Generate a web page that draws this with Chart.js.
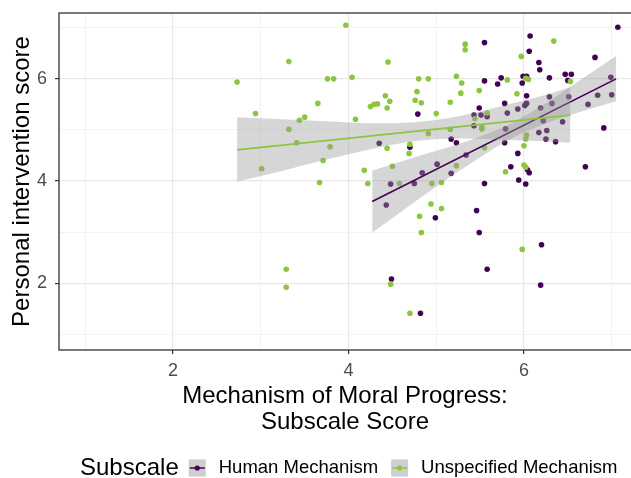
<!DOCTYPE html>
<html>
<head>
<meta charset="utf-8">
<script src="https://cdn.jsdelivr.net/npm/chart.js@4.4.0/dist/chart.umd.min.js"></script>
<style>
  html, body { margin: 0; padding: 0; background: #fff; overflow: hidden; }
  #wrap { width: 635px; height: 478px; position: relative; }
</style>
</head>
<body>
<div id="wrap"><canvas id="myChart"></canvas></div>
<script>
// Datos
const humanX = [4.79,4.35,4.70,5.17,5.23,5.01,4.84,5.17,4.48,4.75, 4.43,4.99,4.49,4.82,5.49,6.20,5.58,6.19,5.93,5.85,
  6.04,6.06,5.94,6.02,5.55,5.46,5.78,6.17,6.26,6.25, 6.36,5.34,5.43,6.22,5.55,6.07,6.06,6.17,6.18,6.29,
  5.55,5.74,5.70,5.99,6.03,5.98,6.03,6.29,5.49,5.43, 5.51,5.58,5.78,5.81,5.93,6.01,6.03,6.19,6.32,6.81,
  7.07,6.47,6.54,6.50,6.51,6.99,7.00,6.84,6.73,6.91, 6.70,6.44,5.79];
const humanY = [5.31,4.74,4.66,4.82,4.75,4.33,4.16,4.15,3.94,3.95, 3.53,3.28,2.08,1.41,2.99,2.75,2.27,1.96,4.54,4.28,
  4.22,4.16,4.02,3.94,3.95,3.42,4.75,4.95,4.99,4.82, 4.77,4.51,5.08,5.18,6.71,6.84,6.54,6.32,6.18,6.02,
  5.96,6.02,5.90,6.05,6.05,5.92,5.67,5.65,5.43,5.29, 5.29,5.26,5.52,5.33,5.41,5.48,5.52,5.43,5.52,6.42,
  7.01,6.09,6.09,5.97,5.65,6.03,5.69,5.68,5.50,5.04, 4.28,5.16,5.02];

const unspecX = [2.73,3.32,2.94,3.32,3.44,3.50,3.41,3.01,3.65,3.67, 3.29,3.29,3.97,3.76,3.83,3.79,3.71,4.04,4.45,4.80,
  4.91,5.23,5.29,4.42,4.78,4.25,4.29,4.33,4.47,4.44, 4.76,4.83,5.16,5.28,5.00,4.08,5.33,5.33,5.49,5.81,
  5.97,6.34,5.92,6.02,6.05,6.53,5.58,5.44,5.52,4.91, 5.16,4.44,4.70,4.69,4.18,4.22,4.50,4.58,4.95,5.06,
  5.23,5.55,5.79,6.00,6.02,6.03,6.00,4.94,5.06,4.81, 4.83,4.48,4.70,5.98,5.52,6.02];
const unspecY = [5.94,6.34,5.32,5.01,5.19,5.25,4.75,4.24,5.52,3.97, 2.27,1.92,7.05,6.00,6.00,4.67,4.40,6.03,6.33,6.00,
  6.00,6.05,5.92,5.67,5.75,5.46,5.50,5.51,5.56,5.43, 5.58,5.53,5.54,5.72,5.32,5.21,6.68,6.57,5.77,5.98,
  6.44,6.74,5.71,6.01,5.99,5.95,5.33,5.22,5.02,4.93, 5.01,4.64,4.72,4.54,4.21,3.95,4.29,3.95,3.95,3.97,
  4.30,4.65,4.18,4.69,4.82,4.90,4.31,3.55,3.46,3.31, 2.99,1.98,1.41,2.66,5.05,4.27];

// recta de regresion y banda de confianza
const humanFitX = [4.27, 7.05];
const humanFitY = [3.60, 6.00];
const humanBandX = [4.27, 4.6, 5.0, 5.4, 5.8, 6.2, 6.6, 7.05];
const humanBandHi = [4.20, 4.38, 4.59, 4.81, 5.08, 5.47, 5.93, 6.45];
const humanBandLo = [2.99, 3.40, 3.89, 4.35, 4.78, 5.09, 5.33, 5.56];

const unspecFitX = [2.73, 6.53];
const unspecFitY = [4.61, 5.29];
const unspecBandX = [2.73, 3.25, 3.75, 4.25, 4.75, 5.25, 5.75, 6.25, 6.53];
const unspecBandHi = [5.25, 5.21, 5.17, 5.13, 5.15, 5.27, 5.47, 5.69, 5.84];
const unspecBandLo = [3.99, 4.20, 4.42, 4.62, 4.78, 4.83, 4.81, 4.78, 4.75];

const xTicks = [2, 4, 6];
const yTicks = [2, 4, 6];

const series = ["Human Mechanism", "Unspecified Mechanism"];
const legendTitle = "Subscale";
const xTitle = ["Mechanism of Moral Progress:", "Subscale Score"];
const yTitle = "Personal intervention score";

const colorHuman = "#440154";
const colorUnspec = "#8CC63E";
const bandColor = "rgba(153,153,153,0.4)";
const fuente = '"Liberation Sans", Arial, sans-serif';

function pares(xs, ys) {
  return xs.map((x, i) => ({ x: x, y: ys[i] }));
}

// borde del panel
const bordePanel = {
  id: "bordePanel",
  afterDatasetsDraw(chart) {
    const { ctx, chartArea: a } = chart;
    ctx.save();
    ctx.strokeStyle = "#333333";
    ctx.lineWidth = 1.3;
    ctx.strokeRect(a.left, a.top, a.right - a.left + 2, a.bottom - a.top);
    ctx.restore();
  }
};

// leyenda al estilo ggplot
const leyenda = {
  id: "leyenda",
  afterDraw(chart) {
    const ctx = chart.ctx;
    const y = 468;
    ctx.save();
    ctx.textBaseline = "middle";
    ctx.textAlign = "left";
    ctx.fillStyle = "#000";
    ctx.font = "24px " + fuente;
    ctx.fillText(legendTitle, 80, y);
    let x = 80 + ctx.measureText(legendTitle).width + 10;
    const colores = [colorHuman, colorUnspec];
    ctx.font = "18.5px " + fuente;
    series.forEach((nombre, i) => {
      ctx.fillStyle = "#F2F2F2";
      ctx.fillRect(x, y - 8.5, 17, 17);
      ctx.fillStyle = bandColor;
      ctx.fillRect(x, y - 8.5, 17, 17);
      ctx.strokeStyle = colores[i];
      ctx.lineWidth = 1.5;
      ctx.beginPath();
      ctx.moveTo(x + 1, y);
      ctx.lineTo(x + 16, y);
      ctx.stroke();
      ctx.fillStyle = colores[i];
      ctx.beginPath();
      ctx.arc(x + 8.5, y, 2.6, 0, Math.PI * 2);
      ctx.fill();
      ctx.fillStyle = "#000";
      ctx.fillText(nombre, x + 30, y);
      x = x + 30 + ctx.measureText(nombre).width + 13;
    });
    ctx.restore();
  }
};

function esMayor(ctx, lista) {
  return ctx.tick && lista.includes(ctx.tick.value);
}

const config = {
  type: "scatter",
  data: {
    datasets: [
      // puntos (abajo)
      { label: series[1], data: pares(unspecX, unspecY), backgroundColor: colorUnspec, pointRadius: 2.8, pointBorderWidth: 0, order: 10 },
      { label: series[0], data: pares(humanX, humanY), backgroundColor: colorHuman, pointRadius: 2.8, pointBorderWidth: 0, order: 10 },
      // banda Human
      { type: "line", data: pares(humanBandX, humanBandHi), borderColor: "rgba(0,0,0,0)", pointRadius: 0, fill: "+1", backgroundColor: bandColor, cubicInterpolationMode: "monotone", order: 8 },
      { type: "line", data: pares(humanBandX, humanBandLo), borderColor: "rgba(0,0,0,0)", pointRadius: 0, fill: false, cubicInterpolationMode: "monotone", order: 8 },
      { type: "line", data: pares(humanFitX, humanFitY), borderColor: colorHuman, borderWidth: 1.6, pointRadius: 0, fill: false, order: 7 },
      // banda Unspecified
      { type: "line", data: pares(unspecBandX, unspecBandHi), borderColor: "rgba(0,0,0,0)", pointRadius: 0, fill: "+1", backgroundColor: bandColor, cubicInterpolationMode: "monotone", order: 6 },
      { type: "line", data: pares(unspecBandX, unspecBandLo), borderColor: "rgba(0,0,0,0)", pointRadius: 0, fill: false, cubicInterpolationMode: "monotone", order: 6 },
      { type: "line", data: pares(unspecFitX, unspecFitY), borderColor: colorUnspec, borderWidth: 1.6, pointRadius: 0, fill: false, order: 5 }
    ]
  },
  options: {
    responsive: true,
    maintainAspectRatio: false,
    animation: false,
    layout: { padding: { top: 13, right: 0, bottom: 33, left: 0 } },
    plugins: { legend: { display: false }, tooltip: { enabled: false } },
    scales: {
      x: {
        type: "linear",
        min: 0.7,
        max: 7.22,
        afterFit(s) { s.height = 95; s.paddingLeft = 0; s.paddingRight = 0; },
        border: { display: false },
        grid: {
          color: (c) => esMayor(c, xTicks) ? "#E8E8E8" : "#F3F3F3",
          lineWidth: (c) => esMayor(c, xTicks) ? 1.2 : 1,
          tickColor: (c) => esMayor(c, xTicks) ? "#333333" : "rgba(0,0,0,0)",
          tickLength: 4
        },
        ticks: {
          stepSize: 1,
          includeBounds: false,
          autoSkip: false,
          maxRotation: 0,
          padding: 6,
          color: "#4D4D4D",
          font: { family: fuente, size: 18 },
          callback: (v) => xTicks.includes(v) ? String(v) : ""
        },
        title: {
          display: true,
          text: xTitle,
          color: "#000",
          font: { family: fuente, size: 24, lineHeight: 1.1 },
          padding: { top: 0, bottom: 9 }
        }
      },
      y: {
        type: "linear",
        min: 0.69,
        max: 7.29,
        afterFit(s) { s.width = 59; s.paddingTop = 0; s.paddingBottom = 0; },
        border: { display: false },
        grid: {
          color: (c) => esMayor(c, yTicks) ? "#E8E8E8" : "#F3F3F3",
          lineWidth: (c) => esMayor(c, yTicks) ? 1.2 : 1,
          tickColor: (c) => esMayor(c, yTicks) ? "#333333" : "rgba(0,0,0,0)",
          tickLength: 4
        },
        ticks: {
          stepSize: 1,
          includeBounds: false,
          autoSkip: false,
          padding: 8,
          color: "#4D4D4D",
          font: { family: fuente, size: 18 },
          callback: (v) => yTicks.includes(v) ? String(v) : ""
        },
        title: {
          display: true,
          text: yTitle,
          color: "#000",
          font: { family: fuente, size: 24, lineHeight: 1.1 },
          padding: { top: 9, bottom: 0 }
        }
      }
    }
  },
  plugins: [bordePanel, leyenda]
};

const myChart = new Chart(document.getElementById("myChart"), config);
</script>
</body>
</html>
